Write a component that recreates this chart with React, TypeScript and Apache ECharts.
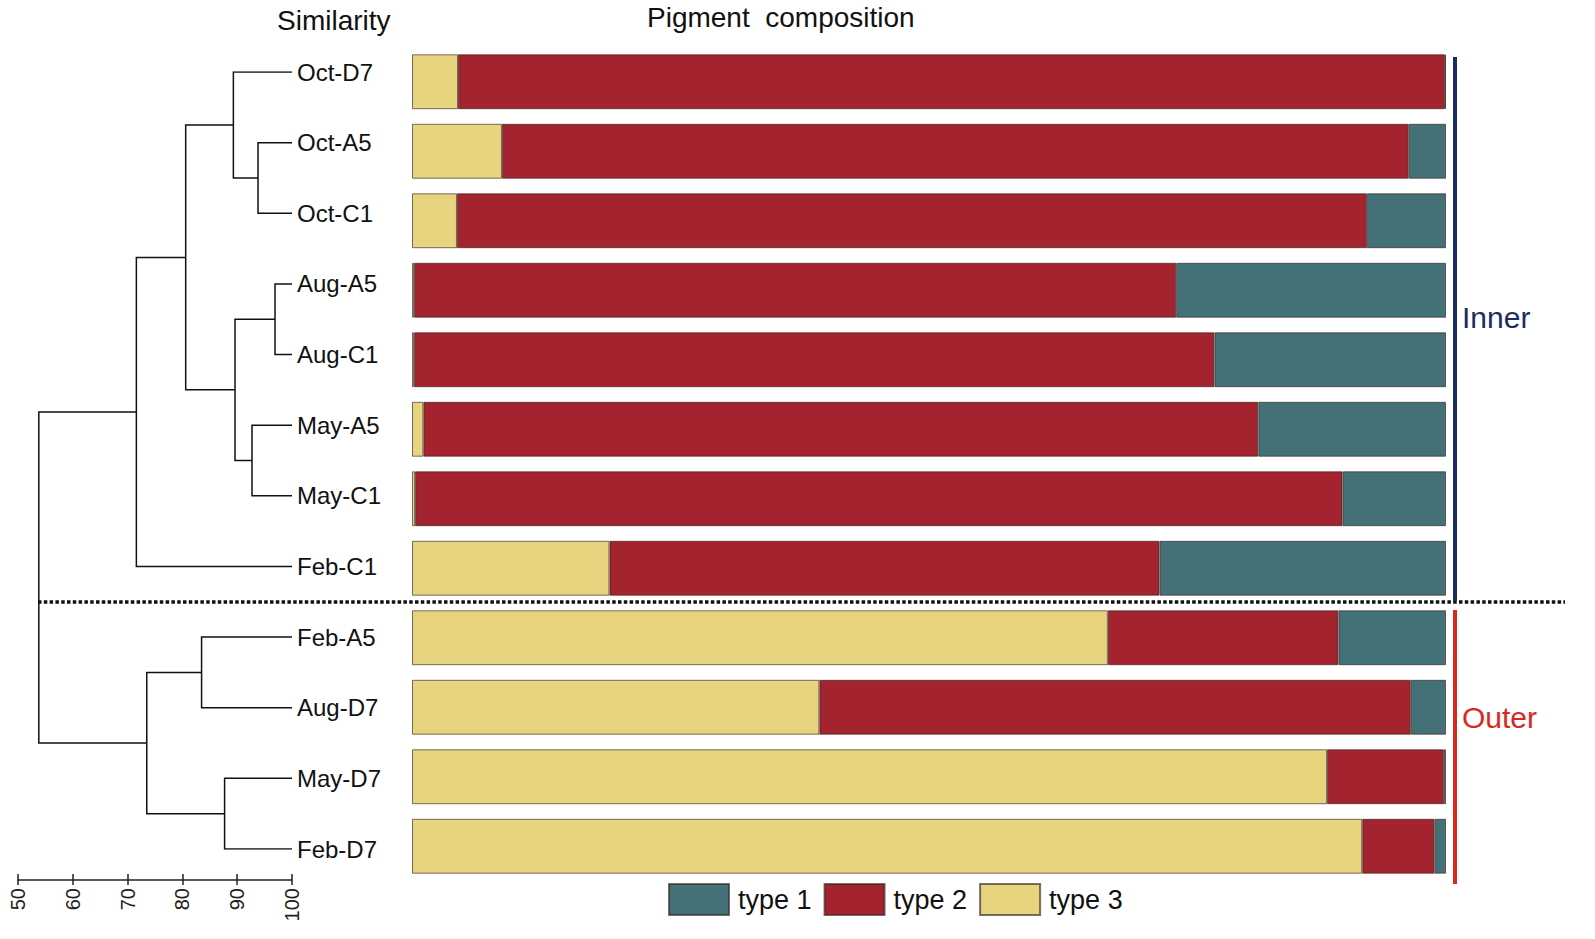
import React, { useEffect, useRef } from "react";
import * as echarts from "echarts";

// ---- data ----
const leaves = ["Oct-D7", "Oct-A5", "Oct-C1", "Aug-A5", "Aug-C1", "May-A5", "May-C1", "Feb-C1", "Feb-A5", "Aug-D7", "May-D7", "Feb-D7"];
const type1 = [0.1, 3.6, 7.65, 26.1, 22.4, 18.15, 10.0, 27.7, 10.4, 3.4, 0.2, 1.1];
const type2 = [95.45, 87.7, 88.0, 73.7, 77.4, 80.75, 89.7, 53.2, 22.3, 57.2, 11.3, 7.0];
const type3 = [4.45, 8.7, 4.35, 0.2, 0.2, 1.1, 0.3, 19.1, 67.3, 39.4, 88.5, 91.9];

// dendrogram merges (in order): id, left child, right child, similarity
const mergeIds = ["m1", "m2", "m3", "m4", "m5", "m6", "m7", "m8", "m9", "m10", "m11"];
const mergeLeft = ["Oct-A5", "Oct-D7", "Aug-A5", "May-A5", "m3", "m2", "m6", "Feb-A5", "May-D7", "m8", "m7"];
const mergeRight = ["Oct-C1", "m1", "Aug-C1", "May-C1", "m4", "m5", "Feb-C1", "Aug-D7", "Feb-D7", "m9", "m10"];
const mergeSimilarity = [93.8, 89.3, 96.9, 92.7, 89.6, 80.6, 71.6, 83.5, 87.7, 73.5, 53.8];

const legendNames = ["type 1", "type 2", "type 3"];

const FONT = "'Liberation Sans', Arial, Helvetica, sans-serif";
const C1 = "#437177";
const C2 = "#a3232e";
const C3 = "#e8d37f";

function buildDendro() {
  const pos: Record<string, { s: number; y: number }> = {};
  leaves.forEach((l, i) => (pos[l] = { s: 100, y: i }));
  const out: any[] = [];
  mergeIds.forEach((id, k) => {
    const a = pos[mergeLeft[k]];
    const b = pos[mergeRight[k]];
    const h = mergeSimilarity[k];
    pos[id] = { s: h, y: (a.y + b.y) / 2 };
    out.push({ coords: [[a.s, a.y], [h, a.y], [h, b.y], [b.s, b.y]] });
  });
  return out;
}

export default function App() {
  const ref = useRef<HTMLDivElement>(null);
  useEffect(() => {
    const chart = echarts.init(ref.current!, null, { renderer: "svg" });
    const barBorder = { borderColor: "rgba(50,40,30,0.65)", borderWidth: 1 };
    chart.setOption({
      animation: false,
      backgroundColor: "#ffffff",
      textStyle: { fontFamily: FONT },
      grid: [
        { left: 412, right: 149, top: 47, bottom: 58 },
        { left: 18, right: 1303, top: 72, bottom: 90 },
      ],
      xAxis: [
        { gridIndex: 0, type: "value", min: 0, max: 100, show: false },
        {
          gridIndex: 1, type: "value", position: "bottom", min: 50, max: 100, interval: 10, offset: 31,
          axisLine: { show: true, onZero: false, lineStyle: { color: "#222", width: 1.5 } },
          axisTick: { show: true, length: 5, lineStyle: { color: "#222", width: 1.5 } },
          splitLine: { show: false },
          axisLabel: { rotate: 90, fontSize: 20, color: "#222", margin: 8, fontFamily: FONT },
        },
        {
          gridIndex: 1, type: "value", position: "bottom", min: 50, max: 100, interval: 10, offset: 31,
          axisLine: { show: false, onZero: false },
          axisTick: { show: true, inside: true, length: 6, lineStyle: { color: "#222", width: 1.5 } },
          splitLine: { show: false },
          axisLabel: { show: false },
        },
      ],
      yAxis: [
        { gridIndex: 0, type: "category", data: leaves, inverse: true, show: false },
        {
          gridIndex: 1, type: "value", min: 0, max: 11, interval: 1, inverse: true, position: "right",
          axisLine: { show: false }, axisTick: { show: false }, splitLine: { show: false },
          axisLabel: {
            margin: 5, fontSize: 24, color: "#111", fontFamily: FONT,
            formatter: (v: number) => leaves[v] ?? "",
          },
        },
      ],
      legend: {
        data: legendNames,
        left: 663, top: 878, itemWidth: 60, itemHeight: 31, itemGap: 12, icon: "rect",
        textStyle: { fontSize: 27, color: "#111", fontFamily: FONT, padding: [0, 0, 0, 4] },
      },
      series: [
        { name: "type 3", type: "bar", stack: "a", data: type3, barCategoryGap: "21%", itemStyle: { color: C3, ...barBorder } },
        { name: "type 2", type: "bar", stack: "a", data: type2, barCategoryGap: "21%", itemStyle: { color: C2, ...barBorder } },
        { name: "type 1", type: "bar", stack: "a", data: type1, barCategoryGap: "21%", itemStyle: { color: C1, ...barBorder } },
        {
          type: "lines", coordinateSystem: "cartesian2d", xAxisIndex: 1, yAxisIndex: 1, polyline: true,
          lineStyle: { color: "#111", width: 1.5, opacity: 1 }, data: buildDendro(), silent: true,
        },
      ],
      graphic: [
        { type: "text", left: 277, top: 6, style: { text: "Similarity", fontSize: 28, fill: "#111", fontFamily: FONT } },
        { type: "text", left: 647, top: 3, style: { text: "Pigment  composition", fontSize: 28, fill: "#111", fontFamily: FONT } },
        { type: "line", shape: { x1: 38, y1: 602, x2: 1565, y2: 602 }, style: { stroke: "#111", lineWidth: 3.5, lineDash: [3.5, 2.3] } },
        { type: "line", shape: { x1: 1455, y1: 57, x2: 1455, y2: 601 }, style: { stroke: "#1b2d5f", lineWidth: 4 } },
        { type: "line", shape: { x1: 1455, y1: 610, x2: 1455, y2: 884 }, style: { stroke: "#d8291e", lineWidth: 4 } },
        { type: "text", left: 1462, top: 302, style: { text: "Inner", fontSize: 30, fill: "#1b2d5f", fontFamily: FONT } },
        { type: "text", left: 1462, top: 702, style: { text: "Outer", fontSize: 30, fill: "#d8291e", fontFamily: FONT } },
      ],
    });
    return () => chart.dispose();
  }, []);
  return <div ref={ref} style={{ position: "absolute", left: 0, top: 0, width: 1595, height: 939 }} />;
}
